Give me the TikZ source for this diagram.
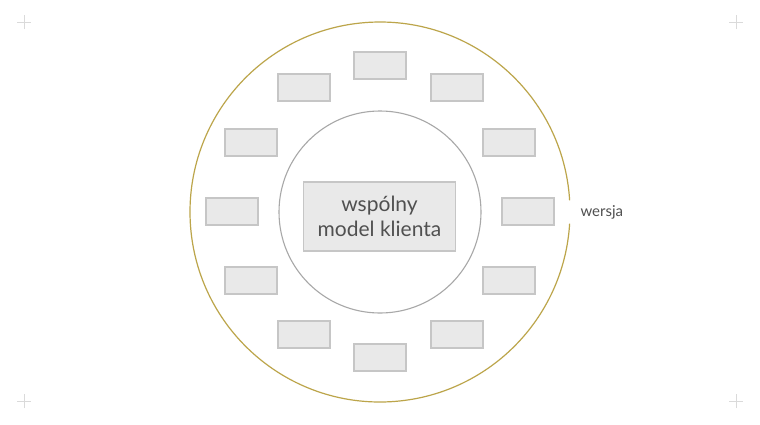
\documentclass[tikz,border=0pt]{standalone}
\usepackage{fontspec}
\setmainfont{Lato}
\definecolor{gold}{HTML}{BCA54A}
\definecolor{ringgray}{HTML}{A8A8A8}
\definecolor{boxfill}{HTML}{E9E9E9}
\definecolor{boxline}{HTML}{C6C6C6}
\definecolor{txt}{HTML}{505050}
\definecolor{cross}{HTML}{DADADA}
\begin{document}
\begin{tikzpicture}[x=1pt,y=-1pt,
  smallbox/.style={draw=boxline,fill=boxfill,line width=1.1pt,minimum width=52pt,minimum height=27pt,inner sep=0pt},
  mainbox/.style={draw=boxline,fill=boxfill,line width=1.1pt,minimum width=152pt,minimum height=69pt,inner sep=0pt,align=center,text=txt,font=\fontsize{21}{25}\selectfont},
  crossmark/.style={draw=cross,line width=0.8pt}]
\useasboundingbox (0,0) rectangle (760,424);
\fill[white] (0,0) rectangle (760,424);
% corner marks
\foreach \cx/\cy [count=\i] in {24/22,736/22,24/401,736/401}{
  \coordinate (c\i) at (\cx,\cy);
  \draw[crossmark] ([xshift=-7pt]c\i) -- ([xshift=7pt]c\i);
  \draw[crossmark] ([yshift=-7pt]c\i) -- ([yshift=7pt]c\i);
}
\coordinate (ctr) at (380,212);
% outer ring with gap at the label
\draw[gold,line width=1.2pt] (ctr) ++(-3.5:190) arc[start angle=-3.5,end angle=-356.5,radius=190];
% inner ring
\draw[ringgray,line width=1.1pt] (ctr) circle[radius=101];
% boxes
\node[smallbox] (b1) at (380,65.5) {};
\node[smallbox] (b2) at (304,87.5) {};
\node[smallbox] (b3) at (457,87.5) {};
\node[smallbox] (b4) at (251,142.5) {};
\node[smallbox] (b5) at (509,142.5) {};
\node[smallbox] (b6) at (232,211.5) {};
\node[smallbox] (b7) at (528,211.5) {};
\node[smallbox] (b8) at (251,280.5) {};
\node[smallbox] (b9) at (509,280.5) {};
\node[smallbox] (b10) at (304,334.5) {};
\node[smallbox] (b11) at (457,334.5) {};
\node[smallbox] (b12) at (380,357.5) {};
\node[mainbox] (main) at (379.5,216.5) {wspólny\\model klienta};
\node[text=txt,font=\fontsize{15}{18}\selectfont,anchor=west] (ver) at (577,212) {wersja};
\end{tikzpicture}
\end{document}
